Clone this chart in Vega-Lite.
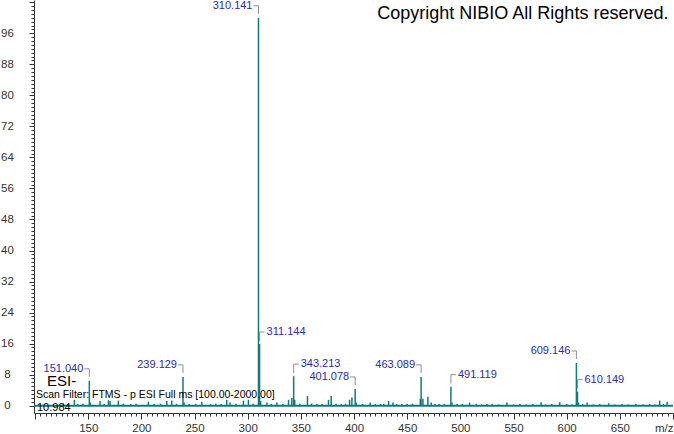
{
  "$schema": "https://vega.github.io/schema/vega-lite/v6.json",
  "width": 639,
  "height": 413,
  "autosize": {"type": "none"},
  "padding": {"left": 34, "top": 0, "right": 1, "bottom": 21},
  "background": "white",
  "config": {"view": {"stroke": null}, "font": "Liberation Sans"},
  "resolve": {"axis": {"x": "independent", "y": "independent"}},
  "datasets": {
    "peaks": [
      {"mz": 126.6, "int": 0.5}, {"mz": 131.0, "int": 0.4}, {"mz": 137.0, "int": 1.5}, {"mz": 140.0, "int": 0.4},
      {"mz": 145.0, "int": 0.5}, {"mz": 151.04, "int": 6.4}, {"mz": 152.0, "int": 0.8}, {"mz": 161.1, "int": 1.2},
      {"mz": 165.0, "int": 0.4}, {"mz": 169.0, "int": 1.4}, {"mz": 170.5, "int": 1.2}, {"mz": 178.3, "int": 1.3},
      {"mz": 183.0, "int": 0.5}, {"mz": 190.0, "int": 0.4}, {"mz": 195.0, "int": 0.5}, {"mz": 206.6, "int": 1.0},
      {"mz": 212.0, "int": 0.4}, {"mz": 218.0, "int": 0.5}, {"mz": 223.9, "int": 1.2}, {"mz": 228.6, "int": 1.3},
      {"mz": 233.0, "int": 0.5}, {"mz": 239.129, "int": 7.4}, {"mz": 240.1, "int": 0.8}, {"mz": 245.0, "int": 0.4},
      {"mz": 251.0, "int": 0.4}, {"mz": 256.8, "int": 1.0}, {"mz": 265.0, "int": 0.4}, {"mz": 270.0, "int": 0.5},
      {"mz": 275.0, "int": 0.4}, {"mz": 280.3, "int": 1.5}, {"mz": 283.4, "int": 0.8}, {"mz": 289.0, "int": 0.5},
      {"mz": 296.0, "int": 1.3}, {"mz": 300.7, "int": 1.5}, {"mz": 305.0, "int": 0.5}, {"mz": 310.141, "int": 100},
      {"mz": 311.144, "int": 15.9}, {"mz": 312.1, "int": 1.2}, {"mz": 318.1, "int": 0.8}, {"mz": 322.0, "int": 0.4},
      {"mz": 327.4, "int": 0.8}, {"mz": 333.0, "int": 0.4}, {"mz": 338.4, "int": 1.5}, {"mz": 341.5, "int": 2.0},
      {"mz": 343.213, "int": 7.6}, {"mz": 344.2, "int": 1.5}, {"mz": 349.0, "int": 0.5}, {"mz": 356.2, "int": 2.5},
      {"mz": 360.0, "int": 0.5}, {"mz": 365.0, "int": 0.4}, {"mz": 370.0, "int": 0.4}, {"mz": 376.0, "int": 1.5},
      {"mz": 378.5, "int": 2.5}, {"mz": 383.0, "int": 0.5}, {"mz": 388.0, "int": 0.4}, {"mz": 392.0, "int": 0.5},
      {"mz": 395.8, "int": 1.5}, {"mz": 398.0, "int": 2.1}, {"mz": 401.078, "int": 4.3}, {"mz": 402.1, "int": 0.8},
      {"mz": 408.0, "int": 0.4}, {"mz": 415.2, "int": 0.8}, {"mz": 420.0, "int": 0.4}, {"mz": 425.0, "int": 0.4},
      {"mz": 428.0, "int": 0.5}, {"mz": 432.5, "int": 1.2}, {"mz": 436.6, "int": 0.8}, {"mz": 440.0, "int": 0.4},
      {"mz": 445.0, "int": 0.4}, {"mz": 450.0, "int": 0.4}, {"mz": 455.0, "int": 0.5}, {"mz": 462.3, "int": 1.7},
      {"mz": 463.089, "int": 7.4}, {"mz": 464.8, "int": 1.8}, {"mz": 469.5, "int": 2.3}, {"mz": 472.6, "int": 0.8},
      {"mz": 476.0, "int": 0.4}, {"mz": 480.0, "int": 0.4}, {"mz": 485.0, "int": 0.4}, {"mz": 491.119, "int": 4.9},
      {"mz": 492.1, "int": 0.8}, {"mz": 497.0, "int": 0.4}, {"mz": 502.0, "int": 0.4}, {"mz": 508.7, "int": 0.8},
      {"mz": 515.0, "int": 0.4}, {"mz": 520.0, "int": 0.3}, {"mz": 525.0, "int": 0.4}, {"mz": 530.0, "int": 0.4},
      {"mz": 536.0, "int": 0.3}, {"mz": 543.8, "int": 0.8}, {"mz": 550.0, "int": 0.3}, {"mz": 556.0, "int": 0.4},
      {"mz": 562.0, "int": 0.3}, {"mz": 568.0, "int": 0.4}, {"mz": 575.9, "int": 0.9}, {"mz": 580.0, "int": 0.3},
      {"mz": 586.0, "int": 0.4}, {"mz": 593.4, "int": 0.9}, {"mz": 600.0, "int": 0.4}, {"mz": 605.0, "int": 0.3},
      {"mz": 609.146, "int": 11.0}, {"mz": 610.149, "int": 3.6}, {"mz": 611.1, "int": 0.8}, {"mz": 615.0, "int": 0.4},
      {"mz": 619.2, "int": 0.8}, {"mz": 625.0, "int": 0.3}, {"mz": 631.0, "int": 0.4}, {"mz": 639.5, "int": 0.6},
      {"mz": 645.0, "int": 0.3}, {"mz": 652.0, "int": 0.4}, {"mz": 658.0, "int": 0.3}, {"mz": 665.0, "int": 0.4},
      {"mz": 672.0, "int": 0.3}, {"mz": 678.0, "int": 0.4}, {"mz": 683.0, "int": 0.3}, {"mz": 687.5, "int": 1.3},
      {"mz": 691.0, "int": 0.4}, {"mz": 694.5, "int": 1.0}
    ],
    "labels": [
      {"mz": 151.04, "int": 6.4}, {"mz": 239.129, "int": 7.4}, {"mz": 310.141, "int": 100},
      {"mz": 311.144, "int": 15.9}, {"mz": 343.213, "int": 7.6}, {"mz": 401.078, "int": 4.3},
      {"mz": 463.089, "int": 7.4}, {"mz": 491.119, "int": 4.9}, {"mz": 609.146, "int": 11.0},
      {"mz": 610.149, "int": 3.6}
    ],
    "notes": [
      {"note": "Copyright NIBIO All Rights reserved."},
      {"note": "ESI-"},
      {"note": "Scan Filter: FTMS - p ESI Full ms [100.00-2000.00]"},
      {"note": "10.984"}
    ]
  },
  "layer": [
    {
      "encoding": {
        "x": {
          "field": "mz", "type": "quantitative",
          "scale": {"domain": [99, 700], "nice": false, "zero": false},
          "axis": {
            "title": null, "grid": false,
            "values": [100,105,110,115,120,125,130,135,140,145,150,155,160,165,170,175,180,185,190,195,200,205,210,215,220,225,230,235,240,245,250,255,260,265,270,275,280,285,290,295,300,305,310,315,320,325,330,335,340,345,350,355,360,365,370,375,380,385,390,395,400,405,410,415,420,425,430,435,440,445,450,455,460,465,470,475,480,485,490,495,500,505,510,515,520,525,530,535,540,545,550,555,560,565,570,575,580,585,590,595,600,605,610,615,620,625,630,635,640,645,650,655,660,665,670,675,680,685,690,695,700],
            "labelExpr": "datum.value == 700 ? 'm/z' : ((datum.value % 50 == 0 && datum.value > 100) ? datum.label : '')",
            "labelAlign": {"condition": {"test": "datum.value == 700", "value": "right"}, "value": "center"},
            "tickSize": {"condition": {"test": "datum.value % 50 == 0", "value": 6}, "value": 3},
            "labelOverlap": false, "labelFlush": false, "labelBound": false,
            "labelPadding": 3, "labelFontSize": 11.5, "labelColor": "#333333",
            "labelFont": "Liberation Sans",
            "domainColor": "#333333", "tickColor": "#333333"
          }
        },
        "y": {
          "field": "int", "type": "quantitative",
          "scale": {"domain": [-1.9, 104.6], "nice": false, "zero": false},
          "axis": {
            "title": null, "grid": false,
            "values": [0,1,2,3,4,5,6,7,8,9,10,11,12,13,14,15,16,17,18,19,20,21,22,23,24,25,26,27,28,29,30,31,32,33,34,35,36,37,38,39,40,41,42,43,44,45,46,47,48,49,50,51,52,53,54,55,56,57,58,59,60,61,62,63,64,65,66,67,68,69,70,71,72,73,74,75,76,77,78,79,80,81,82,83,84,85,86,87,88,89,90,91,92,93,94,95,96,97,98,99,100,101,102,103,104],
            "labelExpr": "(datum.value % 8 == 0 && datum.value <= 96) ? datum.label : ''",
            "tickSize": {"condition": {"test": "datum.value % 8 == 0", "value": 5}, "value": 3},
            "labelAlign": "center", "labelPadding": 22,
            "labelOverlap": false, "labelFlush": false, "labelBound": false,
            "labelFontSize": 11.5, "labelColor": "#333333", "labelFont": "Liberation Sans",
            "domainColor": "#333333", "tickColor": "#333333"
          }
        }
      },
      "layer": [
        {
          "data": {"name": "peaks"},
          "mark": {"type": "rule", "color": "#137a7a", "strokeWidth": 1.5},
          "encoding": {"y2": {"datum": 0}}
        },
        {
          "data": {"name": "labels"},
          "transform": [{"filter": {"field": "mz", "oneOf": [151.04, 239.129, 310.141, 401.078, 463.089, 609.146]}}],
          "layer": [
            {
              "mark": {"type": "rule", "color": "#8c8c9c", "strokeWidth": 1, "xOffset": -5, "x2Offset": 0, "yOffset": -12, "y2Offset": -12},
              "encoding": {"x2": {"field": "mz"}, "y2": {"field": "int"}}
            },
            {
              "mark": {"type": "rule", "color": "#8c8c9c", "strokeWidth": 1, "yOffset": -12, "y2Offset": -4},
              "encoding": {"y2": {"field": "int"}}
            },
            {
              "mark": {"type": "text", "align": "right", "baseline": "middle", "dx": -6, "dy": -12, "color": "#2b2bb8", "fontSize": 11, "font": "Liberation Sans"},
              "encoding": {"text": {"field": "mz", "type": "quantitative", "format": ".3f"}}
            }
          ]
        },
        {
          "data": {"name": "labels"},
          "transform": [{"filter": {"field": "mz", "oneOf": [311.144, 343.213, 491.119, 610.149]}}],
          "layer": [
            {
              "mark": {"type": "rule", "color": "#8c8c9c", "strokeWidth": 1, "xOffset": 0, "x2Offset": 5, "yOffset": -12, "y2Offset": -12},
              "encoding": {"x2": {"field": "mz"}, "y2": {"field": "int"}}
            },
            {
              "mark": {"type": "rule", "color": "#8c8c9c", "strokeWidth": 1, "yOffset": -12, "y2Offset": -3},
              "encoding": {"y2": {"field": "int"}}
            },
            {
              "mark": {"type": "text", "align": "left", "baseline": "middle", "dx": 7, "dy": -12, "color": "#2b2bb8", "fontSize": 11, "font": "Liberation Sans"},
              "encoding": {"text": {"field": "mz", "type": "quantitative", "format": ".3f"}}
            }
          ]
        }
      ]
    },
    {
      "data": {"name": "notes"},
      "transform": [{"filter": "datum.note == '10.984'"}],
      "mark": {"type": "rule", "color": "#137a7a", "strokeWidth": 2},
      "encoding": {
        "x": {"datum": 99, "type": "quantitative", "axis": null},
        "x2": {"datum": 700},
        "y": {"datum": 0, "type": "quantitative", "axis": null}
      }
    },
    {
      "data": {"name": "notes"},
      "transform": [{"filter": "datum.note == 'Copyright NIBIO All Rights reserved.'"}],
      "mark": {"type": "text", "align": "right", "baseline": "middle", "fontSize": 18, "font": "Liberation Sans", "color": "#000000"},
      "encoding": {"x": {"datum": 695.7, "type": "quantitative", "axis": null}, "y": {"datum": 101.0, "type": "quantitative", "axis": null}, "text": {"field": "note"}}
    },
    {
      "data": {"name": "notes"},
      "transform": [{"filter": "datum.note == 'ESI-'"}],
      "mark": {"type": "text", "align": "left", "baseline": "middle", "fontSize": 15, "font": "Liberation Sans", "color": "#000000"},
      "encoding": {"x": {"datum": 111.2, "type": "quantitative", "axis": null}, "y": {"datum": 6.4, "type": "quantitative", "axis": null}, "text": {"field": "note"}}
    },
    {
      "data": {"name": "notes"},
      "transform": [{"filter": "indexof(datum.note, 'Scan Filter') == 0"}],
      "mark": {"type": "text", "align": "left", "baseline": "middle", "fontSize": 10.5, "font": "Liberation Sans", "color": "#000000"},
      "encoding": {"x": {"datum": 100.9, "type": "quantitative", "axis": null}, "y": {"datum": 2.7, "type": "quantitative", "axis": null}, "text": {"field": "note"}}
    },
    {
      "data": {"name": "notes"},
      "transform": [{"filter": "datum.note == '10.984'"}],
      "mark": {"type": "text", "align": "left", "baseline": "middle", "fontSize": 11, "font": "Liberation Sans", "color": "#000000"},
      "encoding": {"x": {"datum": 101.8, "type": "quantitative", "axis": null}, "y": {"datum": -0.6, "type": "quantitative", "axis": null}, "text": {"field": "note"}}
    }
  ]
}
